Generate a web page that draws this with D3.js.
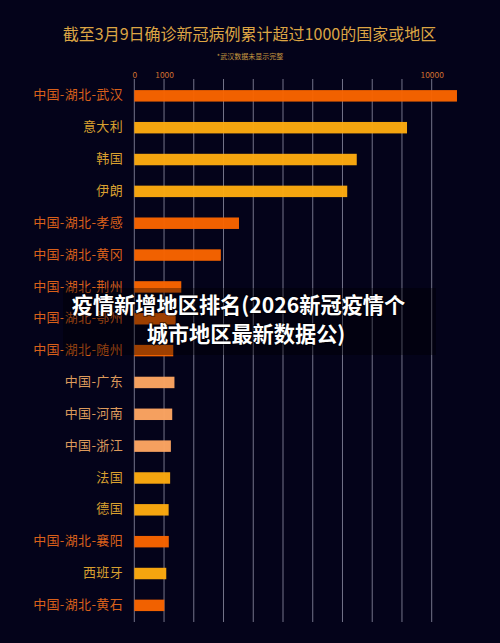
<!DOCTYPE html>
<html>
<head>
<meta charset="utf-8">
<script src="https://cdn.jsdelivr.net/npm/d3@7"></script>
<style>
    html, body { margin: 0; padding: 0; background: #04031a; }
    svg { display: block; }
    text { font-family: "Noto Sans CJK SC", sans-serif; }
</style>
</head>
<body>
<div id="chart"></div>
<script>
const regions = ["中国-湖北-武汉", "意大利", "韩国", "伊朗", "中国-湖北-孝感", "中国-湖北-黄冈", "中国-湖北-荆州", "中国-湖北-鄂州", "中国-湖北-随州", "中国-广东", "中国-河南", "中国-浙江", "法国", "德国", "中国-湖北-襄阳", "西班牙", "中国-湖北-黄石"];
const cases = [10850, 9170, 7480, 7160, 3520, 2910, 1580, 1390, 1310, 1350, 1275, 1230, 1205, 1155, 1160, 1075, 1010];
const groups = ["hubei", "abroad", "abroad", "abroad", "hubei", "hubei", "hubei", "hubei", "hubei", "china", "china", "china", "abroad", "abroad", "hubei", "abroad", "hubei"];
const gridValues = [0, 1000, 2000, 3000, 4000, 5000, 6000, 7000, 8000, 9000, 10000];
const tickLabels = [0, 1000, 10000];
const groupNames = ["hubei", "abroad", "china"];
const captionLines = ["疫情新增地区排名(2026新冠疫情个", "城市地区最新数据公)"];

const width = 500, height = 643;

const x = d3.scaleLinear().domain([0, 10000]).range([134.3, 431.7]);
const y = d3.scaleBand().domain(regions).range([79.6, 621.6]).paddingInner(0.64).paddingOuter(0.33);
const barColor = d3.scaleOrdinal().domain(groupNames).range(["#f96400", "#fdaa10", "#fda562"]);
const labelColor = d3.scaleOrdinal().domain(groupNames).range(["#d9601a", "#d9a030", "#dc9a5c"]);

const svg = d3.select("#chart").append("svg")
    .attr("width", width)
    .attr("height", height);

svg.append("rect")
    .attr("width", width)
    .attr("height", height)
    .attr("fill", "#04031a");

svg.append("text")
    .attr("x", 249.5)
    .attr("y", 39.5)
    .attr("text-anchor", "middle")
    .attr("font-size", 16)
    .attr("fill", "#dca544")
    .text("截至3月9日确诊新冠病例累计超过1000的国家或地区");

svg.append("text")
    .attr("x", 250)
    .attr("y", 58.5)
    .attr("text-anchor", "middle")
    .attr("font-size", 7)
    .attr("fill", "#c89a40")
    .text("*武汉数据未显示完整");

// vertical grid lines
svg.append("g")
    .selectAll("line")
    .data(gridValues)
    .join("line")
    .attr("x1", d => x(d))
    .attr("x2", d => x(d))
    .attr("y1", 79)
    .attr("y2", 622)
    .attr("stroke", "#74748a")
    .attr("stroke-width", 1);

// top axis only carries the labelled ticks
const axis = svg.append("g")
    .attr("transform", "translate(0,78)")
    .call(d3.axisTop(x).tickValues(tickLabels).tickSize(0).tickPadding(0).tickFormat(d3.format("d")));
axis.select(".domain").remove();
axis.selectAll("text")
    .attr("font-size", 8.4)
    .attr("fill", "#d07030")
    .style("font-family", '"Noto Sans CJK SC", sans-serif');

svg.append("g")
    .selectAll("rect")
    .data(regions)
    .join("rect")
    .attr("x", x(0))
    .attr("y", d => y(d))
    .attr("width", (d, i) => x(cases[i]) - x(0))
    .attr("height", y.bandwidth())
    .attr("fill", (d, i) => barColor(groups[i]))
    .attr("fill-opacity", 0.97);

svg.append("g")
    .selectAll("text")
    .data(regions)
    .join("text")
    .attr("x", 123)
    .attr("y", d => y(d) + y.bandwidth() / 2 + 3.6)
    .attr("text-anchor", "end")
    .attr("font-size", 13)
    .attr("letter-spacing", 0.35)
    .attr("fill", (d, i) => labelColor(groups[i]))
    .text(d => d);

// caption banner laid over the chart
svg.append("rect")
    .attr("x", 63)
    .attr("y", 288)
    .attr("width", 373)
    .attr("height", 67)
    .attr("fill", "#000")
    .attr("fill-opacity", 0.35);

svg.append("g")
    .selectAll("text")
    .data(captionLines)
    .join("text")
    .attr("x", (d, i) => i === 0 ? 238.5 : 246)
    .attr("y", (d, i) => 313 + i * 28.5)
    .attr("text-anchor", "middle")
    .attr("font-size", 21.2)
    .attr("font-weight", 700)
    .attr("fill", "#fff")
    .style("paint-order", "stroke")
    .attr("stroke", "#000")
    .attr("stroke-opacity", 0.5)
    .attr("stroke-width", 2)
    .text(d => d);
</script>
</body>
</html>
